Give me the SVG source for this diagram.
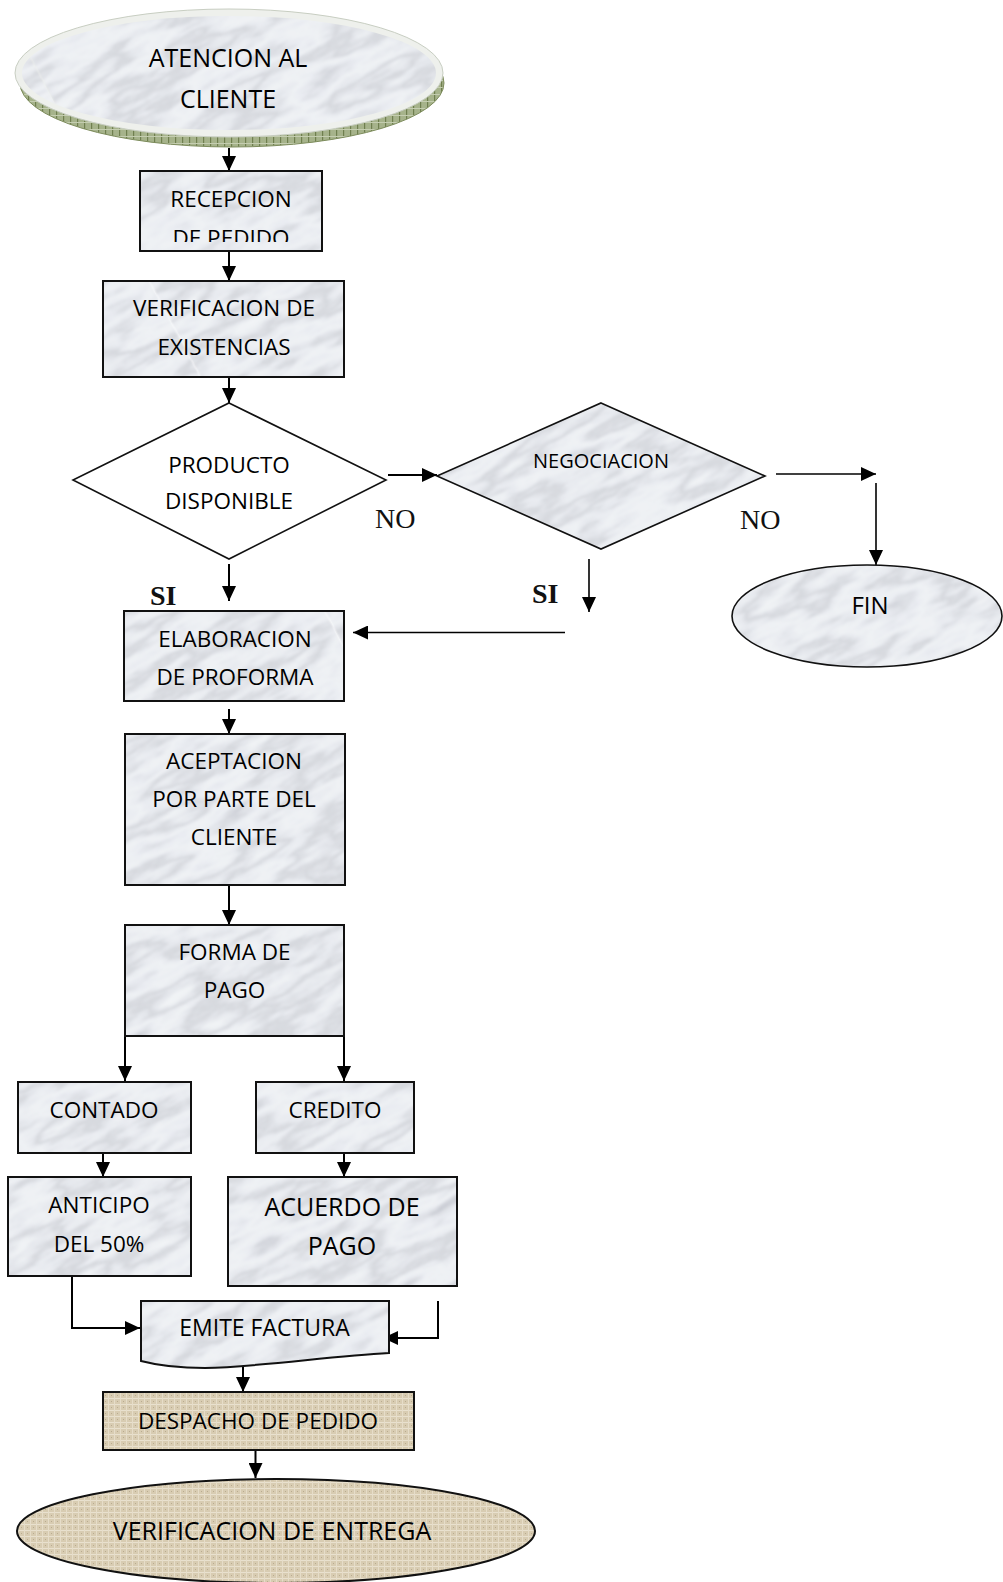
<svg xmlns="http://www.w3.org/2000/svg" width="1003" height="1582" viewBox="0 0 1003 1582">
  <style>
    .lbl { font-family: "Open Sans", "Liberation Sans", sans-serif; font-size: 22.5px; fill: #000; text-anchor: middle; }
    .big { font-size: 25px; }
    .small { font-size: 20px; }
    .tag { font-family: "Liberation Serif", "Times New Roman", serif; font-size: 28px; fill: #111; }
    .tagb { font-weight: bold; }
    .box { fill: url(#marble); stroke: #111; stroke-width: 2; }
    .dia { stroke: #111; stroke-width: 1.6; }
    .canvas { fill: url(#canvas); stroke: #111; stroke-width: 2; }
    .wire { fill: none; stroke: #000; stroke-width: 2; marker-end: url(#arrow); }
    .thin { stroke-width: 1.6; }
  </style>
  <defs>
    <marker id="arrow" markerUnits="userSpaceOnUse" markerWidth="15" markerHeight="14" refX="15" refY="7" orient="auto">
      <path d="M0,0 L15,7 L0,14 Z" fill="#000"/>
    </marker>

    <!-- soft grey marble -->
    <filter id="marbleTex" x="0" y="0" width="1" height="1" color-interpolation-filters="sRGB">
      <feTurbulence type="fractalNoise" baseFrequency="0.011 0.038" numOctaves="5" seed="11" result="n"/>
      <feColorMatrix in="n" type="matrix" values="1 0 0 0 0  1 0 0 0 0  1 0 0 0 0  0 0 0 0 1" result="g"/>
      <feComponentTransfer in="g">
        <feFuncR type="table" tableValues="0.72 0.80 0.87 0.92 0.94 0.91 0.84 0.90 0.94 0.95 0.92"/>
        <feFuncG type="table" tableValues="0.73 0.81 0.88 0.93 0.95 0.92 0.85 0.91 0.95 0.96 0.93"/>
        <feFuncB type="table" tableValues="0.76 0.84 0.90 0.95 0.96 0.94 0.87 0.93 0.96 0.97 0.95"/>
      </feComponentTransfer>
      <feGaussianBlur stdDeviation="0.8"/>
    </filter>
    <pattern id="marble" patternUnits="userSpaceOnUse" width="1600" height="2200" patternTransform="rotate(-28)">
      <rect x="0" y="0" width="1600" height="2200" fill="#e8eaed" filter="url(#marbleTex)"/>
    </pattern>

    <!-- beige woven canvas -->
    <pattern id="canvas" patternUnits="userSpaceOnUse" width="6" height="6">
      <rect width="6" height="6" fill="#d8ccb2"/>
      <rect x="0" y="0" width="6" height="1" fill="#e9e1cf"/>
      <rect x="0" y="0" width="1" height="6" fill="#e6ddc9"/>
      <rect x="3" y="3" width="1" height="1" fill="#b9ab8f"/>
    </pattern>

    <!-- olive ribbed rim under the start ellipse -->
    <pattern id="ribs" patternUnits="userSpaceOnUse" width="7" height="7">
      <rect width="7" height="7" fill="#a6b38b"/>
      <rect x="0" y="0" width="1.2" height="7" fill="#6f7f4f"/>
      <rect x="0" y="3" width="7" height="1" fill="#c4cdb0"/>
    </pattern>

    <clipPath id="recClip">
      <rect x="141" y="172" width="180" height="70"/>
    </clipPath>
  </defs>

  <!-- connectors -->
  <g id="connectors">
    <path class="wire" d="M229,148 V171"/>
    <path class="wire" d="M229,251 V281"/>
    <path class="wire" d="M229,377 V403"/>
    <path class="wire" d="M388,475 H437"/>
    <path class="wire thin" d="M776,474 H876"/>
    <path class="wire thin" d="M876,483 V565"/>
    <path class="wire" d="M229,564 V601"/>
    <path class="wire thin" d="M589,559 V612"/>
    <path class="wire thin" d="M565,632.5 H353"/>
    <path class="wire" d="M229,709 V734"/>
    <path class="wire" d="M229,885 V925"/>
    <path class="wire" d="M125,1036 V1081"/>
    <path class="wire" d="M344,1036 V1081"/>
    <path class="wire" d="M103,1153 V1177"/>
    <path class="wire" d="M344,1153 V1177"/>
    <path class="wire" d="M72,1276 V1328 H140"/>
    <path class="wire" d="M438,1301 V1338 H383"/>
    <path class="wire" d="M243,1366 V1392"/>
    <path class="wire" d="M255.5,1450 V1478"/>
    <text class="tag" x="375" y="528">NO</text>
    <text class="tag" x="740" y="529">NO</text>
    <text class="tag tagb" x="150" y="605">SI</text>
    <text class="tag tagb" x="532" y="603">SI</text>
  </g>

  <g id="atencion">
    <ellipse cx="232" cy="83" rx="212" ry="64" fill="url(#ribs)" stroke="#7d8c5c" stroke-width="1"/>
    <ellipse cx="229" cy="73" rx="214" ry="64" fill="#eef0ec" stroke="#c8cec2" stroke-width="1"/>
    <ellipse cx="229" cy="73" rx="207" ry="57" fill="url(#marble)"/>
    <text class="lbl big" x="228" y="67">ATENCION AL</text>
    <text class="lbl big" x="228" y="108">CLIENTE</text>
  </g>

  <g id="recepcion">
    <rect class="box" x="140" y="171" width="182" height="80"/>
    <text class="lbl" x="231" y="207">RECEPCION</text>
    <text class="lbl" x="231" y="246" clip-path="url(#recClip)">DE PEDIDO</text>
  </g>

  <g id="verificacion">
    <rect class="box" x="103" y="281" width="241" height="96"/>
    <text class="lbl" x="224" y="316">VERIFICACION DE</text>
    <text class="lbl" x="224" y="355">EXISTENCIAS</text>
  </g>

  <g id="producto">
    <polygon class="dia" points="229,403 386,480 229,559 73,480" fill="#fff"/>
    <text class="lbl" x="229" y="473">PRODUCTO</text>
    <text class="lbl" x="229" y="509">DISPONIBLE</text>
  </g>

  <g id="negociacion">
    <polygon class="dia" points="601,403 765,476 601,549 437,476" fill="url(#marble)"/>
    <text class="lbl small" x="601" y="468">NEGOCIACION</text>
  </g>

  <g id="fin">
    <ellipse cx="867" cy="616" rx="135" ry="51" fill="url(#marble)" stroke="#111" stroke-width="1.6"/>
    <text class="lbl" x="870" y="614" style="font-size:24px">FIN</text>
  </g>

  <g id="proforma">
    <rect class="box" x="124" y="611" width="220" height="90"/>
    <text class="lbl" x="235" y="647">ELABORACION</text>
    <text class="lbl" x="235" y="685">DE PROFORMA</text>
  </g>

  <g id="aceptacion">
    <rect class="box" x="125" y="734" width="220" height="151"/>
    <text class="lbl" x="234" y="769">ACEPTACION</text>
    <text class="lbl" x="234" y="807">POR PARTE DEL</text>
    <text class="lbl" x="234" y="845">CLIENTE</text>
  </g>

  <g id="forma-pago">
    <rect class="box" x="125" y="925" width="219" height="111"/>
    <text class="lbl" x="234.5" y="960">FORMA DE</text>
    <text class="lbl" x="234.5" y="998">PAGO</text>
  </g>

  <g id="contado">
    <rect class="box" x="18" y="1082" width="173" height="71"/>
    <text class="lbl" x="104" y="1118">CONTADO</text>
  </g>

  <g id="credito">
    <rect class="box" x="256" y="1082" width="158" height="71"/>
    <text class="lbl" x="335" y="1118">CREDITO</text>
  </g>

  <g id="anticipo">
    <rect class="box" x="8" y="1177" width="183" height="99"/>
    <text class="lbl" x="99" y="1213">ANTICIPO</text>
    <text class="lbl" x="99" y="1252">DEL 50%</text>
  </g>

  <g id="acuerdo">
    <rect class="box" x="228" y="1177" width="229" height="109"/>
    <text class="lbl big" x="342" y="1216">ACUERDO DE</text>
    <text class="lbl big" x="342" y="1255">PAGO</text>
  </g>

  <g id="factura">
    <path class="box" d="M141,1301 H389 V1353 C330,1356 260,1367 205,1368 C185,1368 160,1366 141,1361 Z"/>
    <text class="lbl" x="264.5" y="1336" style="font-size:23px">EMITE FACTURA</text>
  </g>

  <g id="despacho">
    <rect class="canvas" x="103" y="1392" width="311" height="58"/>
    <text class="lbl" x="258" y="1429">DESPACHO DE PEDIDO</text>
  </g>

  <g id="entrega">
    <ellipse class="canvas" cx="276" cy="1531" rx="259" ry="52"/>
    <text class="lbl big" x="272" y="1540">VERIFICACION DE ENTREGA</text>
  </g>
</svg>
